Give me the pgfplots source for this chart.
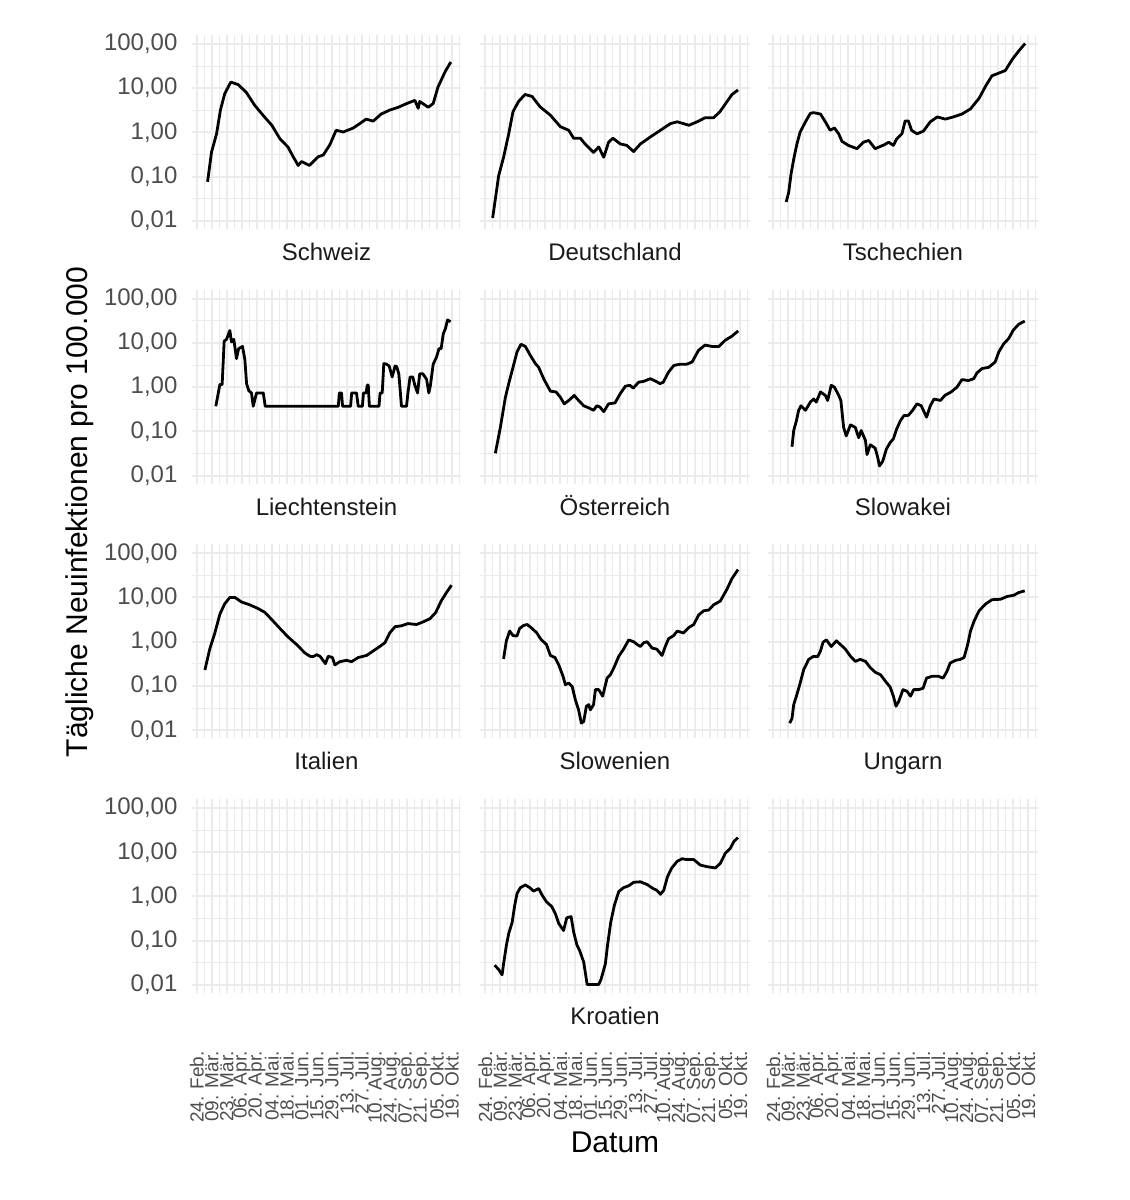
\documentclass[border=0pt]{standalone}
\usepackage{fontspec}
\setmainfont{Liberation Sans}
\usepackage{pgfplots}
\pgfplotsset{compat=1.18}
\definecolor{gridc}{HTML}{EBEBEB}
\definecolor{tickc}{HTML}{4D4D4D}
\definecolor{stripc}{HTML}{1A1A1A}
\tikzset{cline/.style={black, line width=1.4pt, line join=round, mark=none}}
\begin{document}
\begin{tikzpicture}
\useasboundingbox (0,0) rectangle (565pt,-600pt);
% ---------------- Row 1
\begin{semilogyaxis}[at={(95.75pt,-17.5pt)}, anchor=north west,
 scale only axis, width=135pt, height=97pt, ymin=0.0066, ymax=158.5, xmin=-5, xmax=247,
 axis line style={draw=none}, major tick length=0pt, minor tick length=0pt,
 xtick={0,14,...,238}, minor xtick={7,21,...,245}, ytick={0.01,0.1,1,10,100}, minor ytick={0.0316,0.316,3.16,31.6},
 xmajorgrids, ymajorgrids, xminorgrids, yminorgrids,
 major grid style={color=gridc, line width=1pt}, minor grid style={color=gridc, line width=0.5pt},
 xticklabels={},
 yticklabels={{0,01},{0,10},{1,00},{10,00},{100,00}},
 yticklabel style={xshift=-3.5pt, font=\fontsize{12}{14}\selectfont, text=tickc},
 title={Schweiz}, title style={at={(0.5,0)}, anchor=base, yshift=-21.8pt, font=\fontsize{12}{14}\selectfont, text=stripc}]
\addplot[cline] coordinates {(10,0.077)(13.7,0.36)(18.4,0.93)(22,3.2)(26,7.5)(31.7,13.7)(38.6,12)(46,8.1)(54,4.1)(62,2.4)(70,1.45)(77.5,0.72)(85,0.47)(90,0.28)(94.6,0.18)(97.7,0.22)(105,0.18)(113,0.28)(118,0.31)(124,0.52)(130,1.12)(136.6,1.02)(146,1.26)(152,1.58)(158,2.0)(164.6,1.8)(172,2.6)(180,3.2)(188,3.7)(196,4.5)(203.5,5.3)(206.6,3.5)(208,5.0)(216,3.7)(220.6,4.5)(225,10.5)(231.5,23)(237,39)};
\end{semilogyaxis}
\begin{semilogyaxis}[at={(240pt,-17.5pt)}, anchor=north west,
 scale only axis, width=135pt, height=97pt, ymin=0.0066, ymax=158.5, xmin=-5, xmax=247,
 axis line style={draw=none}, major tick length=0pt, minor tick length=0pt,
 xtick={0,14,...,238}, minor xtick={7,21,...,245}, ytick={0.01,0.1,1,10,100}, minor ytick={0.0316,0.316,3.16,31.6},
 xmajorgrids, ymajorgrids, xminorgrids, yminorgrids,
 major grid style={color=gridc, line width=1pt}, minor grid style={color=gridc, line width=0.5pt},
 xticklabels={}, yticklabels={},
 title={Deutschland}, title style={at={(0.5,0)}, anchor=base, yshift=-21.8pt, font=\fontsize{12}{14}\selectfont, text=stripc}]
\addplot[cline] coordinates {(6.8,0.0117)(9.3,0.031)(12.4,0.105)(17,0.275)(21.8,0.93)(25.8,2.95)(31,5.0)(37,7.2)(43.6,6.5)(51,3.8)(60.7,2.45)(70,1.35)(77.8,1.12)(82.4,0.74)(88.7,0.74)(93,0.55)(101,0.355)(105.8,0.47)(110.5,0.275)(115,0.60)(119,0.74)(126,0.55)(132,0.51)(138.4,0.37)(144.7,0.55)(154,0.79)(163.4,1.12)(172.7,1.58)(179,1.74)(185,1.58)(190,1.45)(197.6,1.74)(205,2.14)(213,2.14)(219,2.95)(225.6,5.0)(230,7.1)(235.8,9.1)};
\end{semilogyaxis}
\begin{semilogyaxis}[at={(384pt,-17.5pt)}, anchor=north west,
 scale only axis, width=135pt, height=97pt, ymin=0.0066, ymax=158.5, xmin=-5, xmax=247,
 axis line style={draw=none}, major tick length=0pt, minor tick length=0pt,
 xtick={0,14,...,238}, minor xtick={7,21,...,245}, ytick={0.01,0.1,1,10,100}, minor ytick={0.0316,0.316,3.16,31.6},
 xmajorgrids, ymajorgrids, xminorgrids, yminorgrids,
 major grid style={color=gridc, line width=1pt}, minor grid style={color=gridc, line width=0.5pt},
 xticklabels={}, yticklabels={},
 title={Tschechien}, title style={at={(0.5,0)}, anchor=base, yshift=-21.8pt, font=\fontsize{12}{14}\selectfont, text=stripc}]
\addplot[cline] coordinates {(12,0.027)(14.3,0.044)(16.5,0.115)(19,0.25)(22,0.55)(25,1.02)(30,1.74)(34.5,2.7)(37.6,2.8)(44,2.6)(48.5,1.74)(53,1.12)(57,1.26)(61,0.93)(64,0.63)(70,0.51)(78,0.43)(84,0.60)(89,0.66)(95,0.43)(103,0.52)(107.7,0.60)(112,0.51)(115,0.71)(120,0.93)(123,1.82)(126,1.82)(129,1.12)(134,0.93)(140,1.07)(146.5,1.74)(153,2.24)(160.5,2.0)(168,2.24)(176,2.6)(184,3.4)(192,5.9)(198,11)(204,19)(210.5,21.9)(216.5,25)(223,44.7)(229,69)(235,102)};
\end{semilogyaxis}
% ---------------- Row 2
\begin{semilogyaxis}[at={(95.75pt,-144.85pt)}, anchor=north west,
 scale only axis, width=135pt, height=97pt, ymin=0.0066, ymax=158.5, xmin=-5, xmax=247,
 axis line style={draw=none}, major tick length=0pt, minor tick length=0pt,
 xtick={0,14,...,238}, minor xtick={7,21,...,245}, ytick={0.01,0.1,1,10,100}, minor ytick={0.0316,0.316,3.16,31.6},
 xmajorgrids, ymajorgrids, xminorgrids, yminorgrids,
 major grid style={color=gridc, line width=1pt}, minor grid style={color=gridc, line width=0.5pt},
 xticklabels={},
 yticklabels={{0,01},{0,10},{1,00},{10,00},{100,00}},
 yticklabel style={xshift=-3.5pt, font=\fontsize{12}{14}\selectfont, text=tickc},
 title={Liechtenstein}, title style={at={(0.5,0)}, anchor=base, yshift=-21.8pt, font=\fontsize{12}{14}\selectfont, text=stripc}]
\addplot[cline] coordinates {(17.7,0.37)(21.5,1.15)(23.6,1.15)(25.5,11)(27.7,12)(30.8,19)(32.3,10.5)(34.5,12)(37,4.4)(39,7.4)(42.6,8.3)(44.8,4.2)(46.4,1.2)(48.5,0.83)(51,0.74)(52.6,0.37)(55.7,0.74)(62,0.74)(63.8,0.37)(132,0.37)(133,0.74)(135,0.74)(136,0.37)(143.5,0.37)(144.5,0.74)(149,0.74)(150.6,0.37)(154.5,0.37)(155.5,0.74)(158,0.74)(159,1.11)(160,1.11)(161,0.37)(170,0.37)(171,0.74)(173,0.74)(174.5,3.4)(177,3.3)(179.5,3.0)(182.3,1.7)(185,3.0)(186.5,2.9)(188.5,2.0)(191,0.37)(195.7,0.37)(197,0.74)(199,1.7)(201.5,1.7)(203.5,1.1)(206,0.74)(208,2.0)(211,2.0)(214.4,1.5)(216.5,0.74)(218,1.1)(220.6,3.3)(223.7,4.8)(226,7.4)(228,7.4)(230,16)(232,21)(234,33)(236.8,30)};
\end{semilogyaxis}
\begin{semilogyaxis}[at={(240pt,-144.85pt)}, anchor=north west,
 scale only axis, width=135pt, height=97pt, ymin=0.0066, ymax=158.5, xmin=-5, xmax=247,
 axis line style={draw=none}, major tick length=0pt, minor tick length=0pt,
 xtick={0,14,...,238}, minor xtick={7,21,...,245}, ytick={0.01,0.1,1,10,100}, minor ytick={0.0316,0.316,3.16,31.6},
 xmajorgrids, ymajorgrids, xminorgrids, yminorgrids,
 major grid style={color=gridc, line width=1pt}, minor grid style={color=gridc, line width=0.5pt},
 xticklabels={}, yticklabels={},
 title={Österreich}, title style={at={(0.5,0)}, anchor=base, yshift=-21.8pt, font=\fontsize{12}{14}\selectfont, text=stripc}]
\addplot[cline] coordinates {(9.3,0.032)(14,0.123)(18.7,0.59)(21.8,1.20)(25.8,2.8)(29.6,6.3)(33.3,9.3)(37.3,8.3)(42,5.2)(46.7,3.4)(49.8,2.8)(54.4,1.55)(60.7,0.81)(66,0.78)(70,0.59)(73.7,0.42)(77.8,0.50)(83,0.65)(87,0.50)(91.8,0.38)(96.5,0.34)(101,0.30)(104,0.38)(107,0.355)(110.5,0.28)(115,0.42)(121,0.44)(126,0.72)(130.7,1.05)(135,1.10)(138,0.95)(143,1.29)(147.7,1.35)(154,1.55)(158.6,1.38)(163,1.20)(166,1.29)(171,2.19)(176,3.1)(182,3.3)(188,3.3)(193,3.7)(199,6.8)(205,8.9)(211.6,8.3)(218,8.3)(224,11.5)(230,14.1)(236,18.6)};
\end{semilogyaxis}
\begin{semilogyaxis}[at={(384pt,-144.85pt)}, anchor=north west,
 scale only axis, width=135pt, height=97pt, ymin=0.0066, ymax=158.5, xmin=-5, xmax=247,
 axis line style={draw=none}, major tick length=0pt, minor tick length=0pt,
 xtick={0,14,...,238}, minor xtick={7,21,...,245}, ytick={0.01,0.1,1,10,100}, minor ytick={0.0316,0.316,3.16,31.6},
 xmajorgrids, ymajorgrids, xminorgrids, yminorgrids,
 major grid style={color=gridc, line width=1pt}, minor grid style={color=gridc, line width=0.5pt},
 xticklabels={}, yticklabels={},
 title={Slowakei}, title style={at={(0.5,0)}, anchor=base, yshift=-21.8pt, font=\fontsize{12}{14}\selectfont, text=stripc}]
\addplot[cline] coordinates {(17.4,0.045)(19,0.105)(21.5,0.174)(23.6,0.30)(25.8,0.38)(30,0.30)(34.5,0.46)(37.6,0.54)(40,0.46)(44,0.78)(48.5,0.65)(50.7,0.50)(54,1.10)(57,1.0)(61,0.65)(63,0.50)(65.6,0.123)(68,0.079)(72,0.141)(76.5,0.123)(79.6,0.072)(82,0.105)(86,0.062)(87.4,0.030)(90.5,0.050)(95,0.042)(97.4,0.026)(99,0.0166)(102,0.021)(105.5,0.040)(109,0.056)(112,0.068)(115,0.112)(118.5,0.174)(122,0.23)(126,0.23)(130,0.30)(134,0.42)(138,0.38)(143,0.21)(146.5,0.38)(150,0.54)(156,0.50)(160,0.65)(166,0.78)(171.4,1.0)(176,1.48)(182,1.41)(187,1.55)(190,2.09)(194.8,2.63)(201,2.8)(207,3.7)(210.5,6.3)(215,9.5)(219.7,12.6)(224,19.5)(229,26.3)(234.6,31)};
\end{semilogyaxis}
% ---------------- Row 3
\begin{semilogyaxis}[at={(95.75pt,-272.15pt)}, anchor=north west,
 scale only axis, width=135pt, height=97pt, ymin=0.0066, ymax=158.5, xmin=-5, xmax=247,
 axis line style={draw=none}, major tick length=0pt, minor tick length=0pt,
 xtick={0,14,...,238}, minor xtick={7,21,...,245}, ytick={0.01,0.1,1,10,100}, minor ytick={0.0316,0.316,3.16,31.6},
 xmajorgrids, ymajorgrids, xminorgrids, yminorgrids,
 major grid style={color=gridc, line width=1pt}, minor grid style={color=gridc, line width=0.5pt},
 xticklabels={},
 yticklabels={{0,01},{0,10},{1,00},{10,00},{100,00}},
 yticklabel style={xshift=-3.5pt, font=\fontsize{12}{14}\selectfont, text=tickc},
 title={Italien}, title style={at={(0.5,0)}, anchor=base, yshift=-21.8pt, font=\fontsize{12}{14}\selectfont, text=stripc}]
\addplot[cline] coordinates {(7.5,0.23)(12,0.68)(16.8,1.58)(21.5,4.2)(26,7.2)(30.8,10)(35.5,10)(41.7,7.9)(49.5,6.8)(57.3,5.6)(63.5,4.6)(69.7,3.2)(77.5,2.0)(85,1.29)(93,0.87)(100.8,0.56)(105.5,0.47)(108.6,0.46)(111.7,0.51)(115,0.47)(120,0.32)(122.6,0.47)(126.6,0.44)(128.8,0.30)(133.5,0.355)(139.7,0.38)(144.4,0.355)(150.6,0.44)(158.4,0.49)(164.6,0.62)(171,0.79)(175.5,0.95)(180,1.58)(185,2.19)(191,2.29)(197,2.57)(205,2.45)(211,2.8)(217.5,3.3)(223,4.6)(228,8.3)(233,12.9)(237.7,19)};
\end{semilogyaxis}
\begin{semilogyaxis}[at={(240pt,-272.15pt)}, anchor=north west,
 scale only axis, width=135pt, height=97pt, ymin=0.0066, ymax=158.5, xmin=-5, xmax=247,
 axis line style={draw=none}, major tick length=0pt, minor tick length=0pt,
 xtick={0,14,...,238}, minor xtick={7,21,...,245}, ytick={0.01,0.1,1,10,100}, minor ytick={0.0316,0.316,3.16,31.6},
 xmajorgrids, ymajorgrids, xminorgrids, yminorgrids,
 major grid style={color=gridc, line width=1pt}, minor grid style={color=gridc, line width=0.5pt},
 xticklabels={}, yticklabels={},
 title={Slowenien}, title style={at={(0.5,0)}, anchor=base, yshift=-21.8pt, font=\fontsize{12}{14}\selectfont, text=stripc}]
\addplot[cline] coordinates {(17,0.41)(19.6,1.05)(22.7,1.74)(25.8,1.38)(29.5,1.35)(32,2.0)(35.8,2.34)(39,2.45)(43.6,2.0)(48,1.58)(52,1.12)(57,0.87)(60.7,0.49)(65,0.44)(68.5,0.30)(72.5,0.166)(74.7,0.107)(77.8,0.117)(81,0.098)(84,0.049)(87,0.029)(89.6,0.0145)(91.8,0.0158)(94.3,0.035)(96.5,0.038)(98,0.029)(101,0.038)(102.7,0.083)(105.8,0.083)(109.5,0.059)(113.6,0.151)(116.7,0.18)(120,0.26)(124.5,0.47)(129,0.68)(133.8,1.10)(138.4,1.0)(141.6,0.87)(144.7,0.78)(147.8,0.95)(151,1.0)(155.6,0.72)(160,0.68)(164.9,0.49)(168,0.79)(171,1.17)(175.8,1.38)(179,1.74)(185,1.58)(189.8,2.09)(194.5,2.45)(199,4.0)(203.8,5.0)(208.5,5.2)(213,6.8)(219.3,8.3)(225.6,15.5)(230,26.3)(235.8,42.7)};
\end{semilogyaxis}
\begin{semilogyaxis}[at={(384pt,-272.15pt)}, anchor=north west,
 scale only axis, width=135pt, height=97pt, ymin=0.0066, ymax=158.5, xmin=-5, xmax=247,
 axis line style={draw=none}, major tick length=0pt, minor tick length=0pt,
 xtick={0,14,...,238}, minor xtick={7,21,...,245}, ytick={0.01,0.1,1,10,100}, minor ytick={0.0316,0.316,3.16,31.6},
 xmajorgrids, ymajorgrids, xminorgrids, yminorgrids,
 major grid style={color=gridc, line width=1pt}, minor grid style={color=gridc, line width=0.5pt},
 xticklabels={}, yticklabels={},
 title={Ungarn}, title style={at={(0.5,0)}, anchor=base, yshift=-21.8pt, font=\fontsize{12}{14}\selectfont, text=stripc}]
\addplot[cline] coordinates {(15.2,0.0145)(17.4,0.0186)(19,0.038)(21.5,0.059)(24.6,0.107)(28.3,0.234)(33,0.40)(37.6,0.47)(41.4,0.46)(44,0.62)(46.4,0.98)(49.5,1.10)(54,0.78)(58.8,1.05)(62.5,0.87)(67,0.69)(72,0.47)(76.5,0.36)(81,0.40)(86,0.36)(90.5,0.26)(95.2,0.204)(100,0.18)(104.5,0.129)(109,0.095)(112,0.059)(114.5,0.035)(117,0.045)(121,0.083)(124.8,0.076)(128,0.059)(131,0.083)(135.6,0.083)(139.7,0.089)(143,0.151)(148,0.166)(154,0.166)(158.4,0.151)(162,0.214)(165,0.33)(170,0.38)(174.5,0.40)(178,0.44)(181.4,0.87)(184,1.74)(187.4,2.95)(192,5.0)(198,7.1)(204,8.9)(212,9.1)(218,10.5)(224.3,11.2)(229,12.9)(234.6,14.1)};
\end{semilogyaxis}
% ---------------- Row 4
\begin{semilogyaxis}[at={(95.75pt,-399.5pt)}, anchor=north west,
 scale only axis, width=135pt, height=97pt, ymin=0.0066, ymax=158.5, xmin=-5, xmax=247,
 axis line style={draw=none}, major tick length=0pt, minor tick length=0pt,
 xtick={0,14,...,238}, minor xtick={7,21,...,245}, ytick={0.01,0.1,1,10,100}, minor ytick={0.0316,0.316,3.16,31.6},
 xmajorgrids, ymajorgrids, xminorgrids, yminorgrids,
 major grid style={color=gridc, line width=1pt}, minor grid style={color=gridc, line width=0.5pt},
 xticklabels={24. Feb.,09. Mär.,23. Mär.,06. Apr.,20. Apr.,04. Mai.,18. Mai.,01. Jun.,15. Jun.,29. Jun.,13. Jul.,27. Jul.,10. Aug.,24. Aug.,07. Sep.,21. Sep.,05. Okt.,19. Okt.},
 xticklabel style={yshift=-29pt, rotate=90, anchor=east, font=\fontsize{9.5}{10}\selectfont, text=tickc, inner sep=0pt},
 yticklabels={{0,01},{0,10},{1,00},{10,00},{100,00}},
 yticklabel style={xshift=-3.5pt, font=\fontsize{12}{14}\selectfont, text=tickc}]
\addplot[draw=none] coordinates {(0,1)};
\end{semilogyaxis}
\begin{semilogyaxis}[at={(240pt,-399.5pt)}, anchor=north west,
 scale only axis, width=135pt, height=97pt, ymin=0.0066, ymax=158.5, xmin=-5, xmax=247,
 axis line style={draw=none}, major tick length=0pt, minor tick length=0pt,
 xtick={0,14,...,238}, minor xtick={7,21,...,245}, ytick={0.01,0.1,1,10,100}, minor ytick={0.0316,0.316,3.16,31.6},
 xmajorgrids, ymajorgrids, xminorgrids, yminorgrids,
 major grid style={color=gridc, line width=1pt}, minor grid style={color=gridc, line width=0.5pt},
 xticklabels={24. Feb.,09. Mär.,23. Mär.,06. Apr.,20. Apr.,04. Mai.,18. Mai.,01. Jun.,15. Jun.,29. Jun.,13. Jul.,27. Jul.,10. Aug.,24. Aug.,07. Sep.,21. Sep.,05. Okt.,19. Okt.},
 xticklabel style={yshift=-29pt, rotate=90, anchor=east, font=\fontsize{9.5}{10}\selectfont, text=tickc, inner sep=0pt},
 yticklabels={},
 title={Kroatien}, title style={at={(0.5,0)}, anchor=base, yshift=-21.8pt, font=\fontsize{12}{14}\selectfont, text=stripc}]
\addplot[cline] coordinates {(8.7,0.028)(12.4,0.0224)(15.6,0.017)(17,0.030)(19.6,0.078)(21.8,0.145)(25,0.26)(27.4,0.63)(29.6,1.17)(32.7,1.58)(37.3,1.82)(41.4,1.58)(45,1.32)(49.8,1.51)(53,1.07)(57,0.76)(62,0.59)(65.3,0.41)(68.5,0.245)(73,0.17)(76,0.33)(80,0.35)(82.4,0.158)(85.6,0.078)(88,0.060)(91.8,0.033)(95,0.0103)(105.8,0.0103)(108,0.0135)(112,0.030)(114,0.078)(117,0.26)(120.4,0.63)(124.5,1.29)(129,1.58)(133.8,1.74)(138.4,2.09)(144.7,2.14)(151,1.86)(156.5,1.51)(160,1.38)(163.4,1.12)(166.5,1.38)(170,2.8)(174,4.4)(179,6.2)(183.6,7.1)(188,6.8)(194.5,6.8)(200.7,5.1)(207,4.7)(214.7,4.4)(219.3,5.6)(224,9.5)(228.7,12.3)(232,17.4)(235.8,21.4)};
\end{semilogyaxis}
\begin{semilogyaxis}[at={(384pt,-399.5pt)}, anchor=north west,
 scale only axis, width=135pt, height=97pt, ymin=0.0066, ymax=158.5, xmin=-5, xmax=247,
 axis line style={draw=none}, major tick length=0pt, minor tick length=0pt,
 xtick={0,14,...,238}, minor xtick={7,21,...,245}, ytick={0.01,0.1,1,10,100}, minor ytick={0.0316,0.316,3.16,31.6},
 xmajorgrids, ymajorgrids, xminorgrids, yminorgrids,
 major grid style={color=gridc, line width=1pt}, minor grid style={color=gridc, line width=0.5pt},
 xticklabels={24. Feb.,09. Mär.,23. Mär.,06. Apr.,20. Apr.,04. Mai.,18. Mai.,01. Jun.,15. Jun.,29. Jun.,13. Jul.,27. Jul.,10. Aug.,24. Aug.,07. Sep.,21. Sep.,05. Okt.,19. Okt.},
 xticklabel style={yshift=-29pt, rotate=90, anchor=east, font=\fontsize{9.5}{10}\selectfont, text=tickc, inner sep=0pt},
 yticklabels={}]
\addplot[draw=none] coordinates {(0,1)};
\end{semilogyaxis}
\node[rotate=90, font=\fontsize{15}{18}\selectfont] at (40pt,-256pt) {Tägliche Neuinfektionen pro 100.000};
\node[font=\fontsize{15}{18}\selectfont] at (307.5pt,-571pt) {Datum};
\end{tikzpicture}
\end{document}
